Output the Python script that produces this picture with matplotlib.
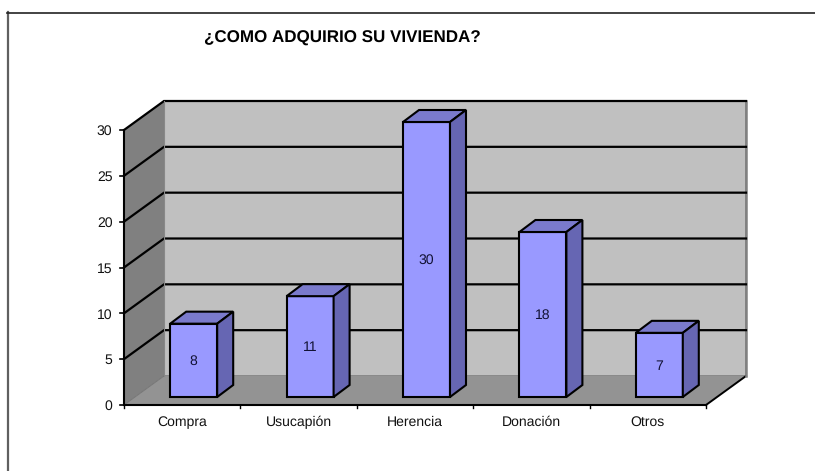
import matplotlib
matplotlib.use("Agg")
import matplotlib.pyplot as plt
from matplotlib.patches import Polygon

plt.rcParams['font.family'] = ['Liberation Sans', 'DejaVu Sans']
plt.rcParams['text.hinting'] = 'none'
plt.rcParams['text.hinting_factor'] = 1

categories = ["Compra", "Usucapión", "Herencia", "Donación", "Otros"]
values = [8, 11, 30, 18, 7]
y_ticks = [0, 5, 10, 15, 20, 25, 30]
title = "¿COMO ADQUIRIO SU VIVIENDA?"

W, H = 815, 471
# front plane of the fake 3d box, in pixels
x0_px, y0_px = 124, 405
cat_px = 116.4
unit_px = 275 / 30.0

fig = plt.figure(figsize=(W / 100, H / 100), dpi=100)
ax = fig.add_axes([0, 0, 1, 1])
ax.set_xlim(-x0_px / cat_px, (W - x0_px) / cat_px)
ax.set_ylim((y0_px - H) / unit_px, y0_px / unit_px)
ax.axis("off")

# depth offsets in data units
dx = 40 / cat_px
dy = 29 / unit_px
n = len(categories)
top = max(y_ticks)


def poly(pts, fc, ec="none", lw=0, z=1):
    ax.add_patch(Polygon(pts, closed=True, facecolor=fc, edgecolor=ec, linewidth=lw, zorder=z))


# walls and floor
poly([(dx, dy), (n + dx, dy), (n + dx, top + dy), (dx, top + dy)], "#c0c0c0", "#808080", 1.2)
poly([(0, 0), (dx, dy), (dx, top + dy), (0, top)], "#808080")
poly([(0, 0), (n, 0), (n + dx, dy), (dx, dy)], "#939393")
ax.plot([n, n + dx], [0, dy], color="black", lw=1.4, zorder=2)
ax.plot([n + dx, n + dx], [dy, top + dy], color="#808080", lw=1.8, zorder=2)

# gridlines, along the wall and the back
for t in y_ticks[1:]:
    ax.plot([0, dx, n + dx], [t, t + dy, t + dy], color="black", lw=1.6, zorder=2, solid_joinstyle="miter")
ax.plot([0, dx], [0, dy], color="#707070", lw=0.6, zorder=2)
ax.plot([dx, dx], [dy, top + dy], color="#888888", lw=0.8, zorder=2)

# axes and ticks
ax.plot([0, 0], [0, top], color="black", lw=1.5, zorder=5)
ax.plot([0, n], [0, 0], color="black", lw=1.5, zorder=5)
for t in y_ticks:
    ax.plot([-4 / cat_px, 0], [t, t], color="black", lw=1.2, zorder=5)
    ax.text(-11.5 / cat_px, t - 1.5 / unit_px, str(t), ha="right", va="center", fontsize=10, color="#111111")
for i in range(n + 1):
    ax.plot([i, i], [0, -3 / unit_px], color="black", lw=1.0, zorder=5)

# bars
bar_w = 47 / cat_px
off_x = 11.5 / cat_px
off_y = 8 / unit_px
bd_x = 16 / cat_px
bd_y = 12 / unit_px
for i, (c, v) in enumerate(zip(categories, values)):
    l = i + 0.5 + off_x - bar_w / 2
    r = l + bar_w
    b = off_y
    t = v + off_y
    ec = "black"
    poly([(l, b), (r, b), (r, t), (l, t)], "#9999ff", ec, 1.5, 6)
    poly([(l, t), (r, t), (r + bd_x, t + bd_y), (l + bd_x, t + bd_y)], "#7a7acc", ec, 1.5, 6)
    poly([(r, b), (r + bd_x, b + bd_y), (r + bd_x, t + bd_y), (r, t)], "#6666b3", ec, 1.5, 6)
    ax.text((l + r) / 2, v / 2 + off_y - 1 / unit_px, str(v), ha="center", va="center", fontsize=10, color="#111133", zorder=7)
    ax.text(i + 0.5, -17 / unit_px, c, ha="center", va="center", fontsize=10, color="#111111")

# chart title and frame, pixels converted by hand
ax.text((342 - x0_px) / cat_px, (y0_px - 38) / unit_px, title, ha="center", va="center", fontsize=12.5, fontweight="bold")
fig.add_artist(plt.Line2D([7.5 / W, 7.5 / W], [1 - 12 / H, 0], color="#606060", lw=1.6))
fig.add_artist(plt.Line2D([7 / W, 1], [1 - 12.5 / H, 1 - 12.5 / H], color="#222222", lw=1.2))

fig.savefig("out.png", dpi=100)
